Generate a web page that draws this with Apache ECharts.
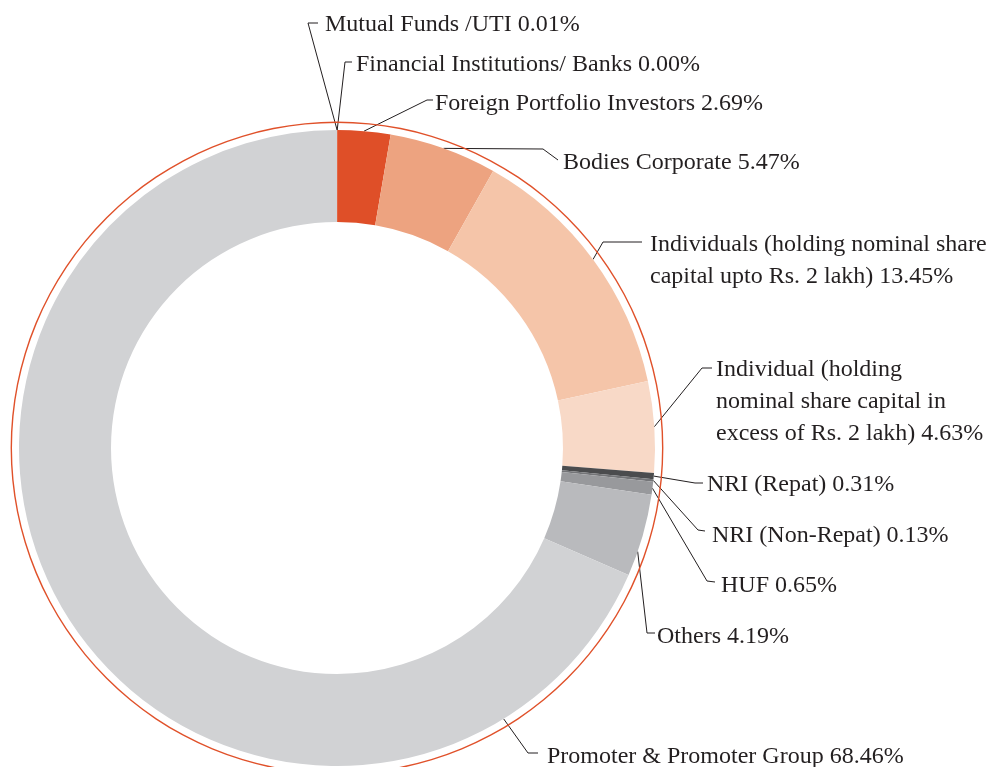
<!DOCTYPE html>
<html>
<head>
<meta charset="utf-8">
<title>Shareholding pattern</title>
<script src="https://cdn.jsdelivr.net/npm/echarts@6/dist/echarts.min.js"></script>
<style>
    html, body { margin: 0; padding: 0; background: #ffffff; }
    #chart { width: 987px; height: 767px; }
</style>
</head>
<body>
<div id="chart"></div>
<script>
// shareholding categories, clockwise from 12 o'clock
var categories = [
    'Mutual Funds /UTI',
    'Financial Institutions/ Banks',
    'Foreign Portfolio Investors',
    'Bodies Corporate',
    'Individuals (holding nominal share\ncapital upto Rs. 2 lakh)',
    'Individual (holding\nnominal share capital in\nexcess of Rs. 2 lakh)',
    'NRI (Repat)',
    'NRI (Non-Repat)',
    'HUF',
    'Others',
    'Promoter & Promoter Group'
];
var shares = [0.01, 0.00, 2.69, 5.47, 13.45, 4.63, 0.31, 0.13, 0.65, 4.19, 68.46];
var sliceColors = [
    '#df4f28', '#df4f28', '#df4f28', '#eda380', '#f5c5a9', '#f8d9c7',
    '#4b4c4e', '#747578', '#98999c', '#b9babd', '#d1d2d4'
];

// layout of the donut
var CX = 337, CY = 448, R_IN = 226, R_OUT = 318;
var LINE_H = 32;
var TEXT_SHIFT = 2; // serif caps sit a bit high in the line box

// where each label sits: text left x, middle of first line y, guide line bends
// startAngle (deg clockwise from top) only where the guide leaves the slice off its middle
var labelSpots = [
    { x: 325, y: 23, bends: [[308, 23], [318, 23]] },
    { x: 356, y: 63, bends: [[345, 62], [352, 62]] },
    { x: 435, y: 102, bends: [[427, 100], [433, 100]] },
    { x: 563, y: 161, bends: [[543, 149], [558, 160]] },
    { x: 650, y: 243, bends: [[603, 242], [642, 242]] },
    { x: 716, y: 368, bends: [[702, 368], [712, 368]] },
    { x: 707, y: 483, bends: [[695, 483], [703, 483]] },
    { x: 712, y: 534, bends: [[698, 530], [705, 531]] },
    { x: 721, y: 584, bends: [[707, 581], [715, 582]] },
    { x: 657, y: 635, bends: [[647, 633], [655, 633]], startAngle: 109 },
    { x: 547, y: 755, bends: [[528, 753], [538, 753]], startAngle: 148.4 }
];

var pieData = categories.map(function (name, i) {
    return {
        name: name,
        value: shares[i],
        itemStyle: { color: sliceColors[i] }
    };
});

var chart = echarts.init(document.getElementById('chart'), null, { renderer: 'canvas' });

var option = {
    animation: false,
    backgroundColor: '#ffffff',
    series: [
        {
            // thin outer ring
            name: 'ring',
            type: 'pie',
            silent: true,
            center: [CX, CY],
            radius: [325, 326.4],
            startAngle: 90,
            label: { show: false },
            labelLine: { show: false },
            emphasis: { disabled: true },
            itemStyle: { color: '#e0512a', borderWidth: 0 },
            data: [{ name: '', value: 1 }]
        },
        {
            name: 'Shareholding',
            type: 'pie',
            center: [CX, CY],
            radius: [R_IN, R_OUT],
            startAngle: 90,
            clockwise: true,
            avoidLabelOverlap: false,
            emphasis: { disabled: true },
            itemStyle: { borderWidth: 0 },
            label: {
                show: true,
                position: 'outside',
                fontFamily: 'Liberation Serif',
                fontSize: 24,
                lineHeight: LINE_H,
                color: '#231f20',
                formatter: function (p) {
                    return p.name + ' ' + p.value.toFixed(2) + '%';
                }
            },
            labelLine: {
                show: true,
                length: 10,
                length2: 10,
                lineStyle: { color: '#231f20', width: 1 }
            },
            labelLayout: function (params) {
                var spot = labelSpots[params.dataIndex];
                var start;
                if (spot.startAngle != null) {
                    var a = spot.startAngle * Math.PI / 180;
                    start = [CX + R_OUT * Math.sin(a), CY - R_OUT * Math.cos(a)];
                } else {
                    start = params.labelLinePoints[0];
                }
                return {
                    x: spot.x,
                    y: spot.y - LINE_H / 2 + TEXT_SHIFT,
                    align: 'left',
                    verticalAlign: 'top',
                    labelLinePoints: [start].concat(spot.bends)
                };
            },
            data: pieData
        }
    ]
};

chart.setOption(option);
window.addEventListener('resize', function () {
    chart.resize();
});
</script>
</body>
</html>
